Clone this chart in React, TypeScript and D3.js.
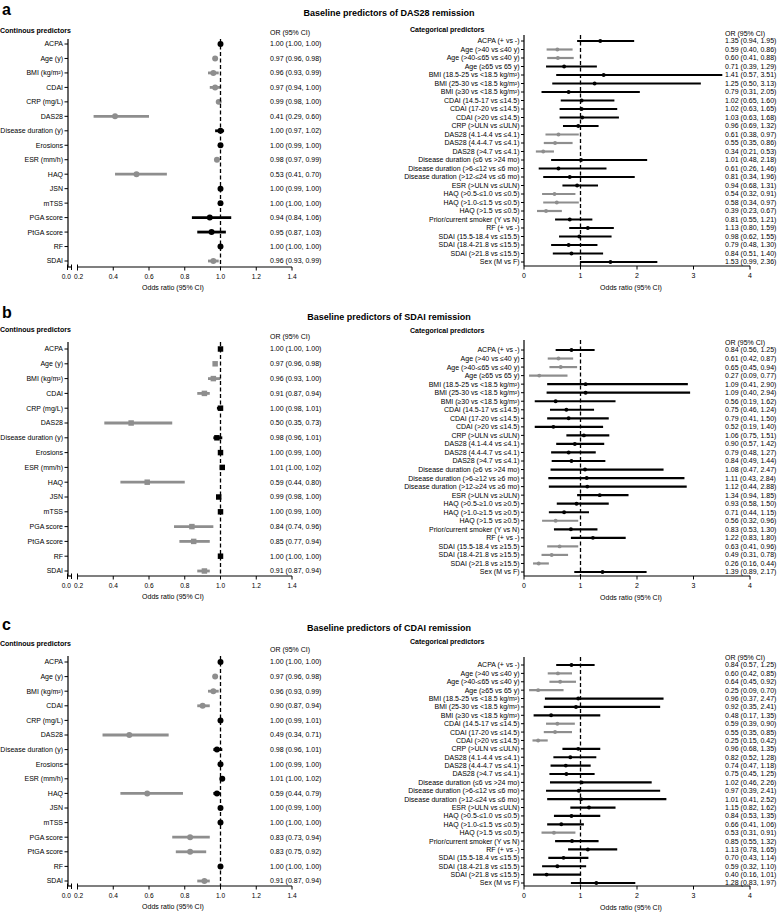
import React from 'react';
import * as d3 from 'd3';

// ---- labels ----
const contLabels = [
  'ACPA', 'Age (y)', 'BMI (kg/m²)', 'CDAI', 'CRP (mg/L)', 'DAS28', 'Disease duration (y)', 'Erosions',
  'ESR (mm/h)', 'HAQ', 'JSN', 'mTSS', 'PGA score', 'PtGA score', 'RF', 'SDAI',
];

const catLabels = [
  'ACPA (+ vs -)', 'Age (>40 vs ≤40 y)', 'Age (>40-≤65 vs ≤40 y)', 'Age (≥65 vs 65 y)',
  'BMI (18.5-25 vs <18.5 kg/m²)', 'BMI (25-30 vs <18.5 kg/m²)', 'BMI (≥30 vs <18.5 kg/m²)',
  'CDAI (14.5-17 vs ≤14.5)', 'CDAI (17-20 vs ≤14.5)', 'CDAI (>20 vs ≤14.5)', 'CRP (>ULN vs ≤ULN)',
  'DAS28 (4.1-4.4 vs ≤4.1)', 'DAS28 (4.4-4.7 vs ≤4.1)', 'DAS28 (>4.7 vs ≤4.1)',
  'Disease duration (≤6 vs >24 mo)', 'Disease duration (>6-≤12 vs ≤6 mo)', 'Disease duration (>12-≤24 vs ≤6 mo)',
  'ESR (>ULN vs ≤ULN)', 'HAQ (>0.5-≤1.0 vs ≤0.5)', 'HAQ (>1.0-≤1.5 vs ≤0.5)', 'HAQ (>1.5 vs ≤0.5)',
  'Prior/current smoker (Y vs N)', 'RF (+ vs -)', 'SDAI (15.5-18.4 vs ≤15.5)', 'SDAI (18.4-21.8 vs ≤15.5)',
  'SDAI (>21.8 vs ≤15.5)', 'Sex (M vs F)',
];

// the SDAI panel prints some of the comparisons with ≥
const catLabelsSdai = [
  'ACPA (+ vs -)', 'Age (>40 vs ≤40 y)', 'Age (>40-≤65 vs ≤40 y)', 'Age (≥65 vs 65 y)',
  'BMI (18.5-25 vs <18.5 kg/m²)', 'BMI (25-30 vs <18.5 kg/m²)', 'BMI (≥30 vs <18.5 kg/m²)',
  'CDAI (14.5-17 vs ≤14.5)', 'CDAI (17-20 vs ≤14.5)', 'CDAI (>20 vs ≤14.5)', 'CRP (>ULN vs ≤ULN)',
  'DAS28 (4.1-4.4 vs ≤4.1)', 'DAS28 (4.4-4.7 vs ≤4.1)', 'DAS28 (>4.7 vs ≤4.1)',
  'Disease duration (≥6 vs >24 mo)', 'Disease duration (>6-≥12 vs ≥6 mo)', 'Disease duration (>12-≥24 vs ≥6 mo)',
  'ESR (>ULN vs ≥ULN)', 'HAQ (>0.5-≥1.0 vs ≥0.5)', 'HAQ (>1.0-≥1.5 vs ≥0.5)', 'HAQ (>1.5 vs ≥0.5)',
  'Prior/current smoker (Y vs N)', 'RF (+ vs -)', 'SDAI (15.5-18.4 vs ≥15.5)', 'SDAI (18.4-21.8 vs ≥15.5)',
  'SDAI (>21.8 vs ≥15.5)', 'Sex (M vs F)',
];

const contTicks = [0, 0.2, 0.4, 0.6, 0.8, 1.0, 1.2, 1.4];
const catTicks = [0, 1, 2, 3, 4];

// ---- DAS28 remission ----
const das28ContOr = [1.00, 0.97, 0.96, 0.97, 0.99, 0.41, 1.00, 1.00, 0.98, 0.53, 1.00, 1.00, 0.94, 0.95, 1.00, 0.96];
const das28ContLo = [1.00, 0.96, 0.93, 0.94, 0.98, 0.29, 0.97, 0.99, 0.97, 0.41, 0.99, 1.00, 0.84, 0.87, 1.00, 0.93];
const das28ContHi = [1.00, 0.98, 0.99, 1.00, 1.00, 0.60, 1.02, 1.00, 0.99, 0.70, 1.00, 1.00, 1.06, 1.03, 1.00, 0.99];
const das28ContSig = [0, 1, 1, 1, 1, 1, 0, 0, 1, 1, 0, 0, 0, 0, 0, 1];

const das28CatOr = [1.35, 0.59, 0.60, 0.71, 1.41, 1.25, 0.79, 1.02, 1.02, 1.03, 0.96, 0.61, 0.55, 0.34, 1.01, 0.61, 0.81, 0.94, 0.54, 0.58, 0.39, 0.81, 1.13, 0.98, 0.79, 0.84, 1.53];
const das28CatLo = [0.94, 0.40, 0.41, 0.39, 0.57, 0.50, 0.31, 0.65, 0.63, 0.63, 0.69, 0.38, 0.35, 0.21, 0.48, 0.26, 0.34, 0.68, 0.32, 0.34, 0.23, 0.55, 0.80, 0.62, 0.48, 0.51, 0.99];
const das28CatHi = [1.95, 0.86, 0.88, 1.29, 3.51, 3.13, 2.05, 1.60, 1.65, 1.68, 1.32, 0.97, 0.86, 0.53, 2.18, 1.46, 1.96, 1.31, 0.91, 0.97, 0.67, 1.21, 1.59, 1.55, 1.30, 1.40, 2.36];
const das28CatSig = [0, 1, 1, 0, 0, 0, 0, 0, 0, 0, 0, 1, 1, 1, 0, 0, 0, 0, 1, 1, 1, 0, 0, 0, 0, 0, 0];

// ---- SDAI remission ----
const sdaiContOr = [1.00, 0.97, 0.96, 0.91, 1.00, 0.50, 0.98, 1.00, 1.01, 0.59, 0.99, 1.00, 0.84, 0.85, 1.00, 0.91];
const sdaiContLo = [1.00, 0.96, 0.93, 0.87, 0.98, 0.35, 0.96, 0.99, 1.00, 0.44, 0.98, 0.99, 0.74, 0.77, 1.00, 0.87];
const sdaiContHi = [1.00, 0.98, 1.00, 0.94, 1.01, 0.73, 1.01, 1.00, 1.02, 0.80, 1.00, 1.00, 0.96, 0.94, 1.00, 0.94];
const sdaiContSig = [0, 1, 1, 1, 0, 1, 0, 0, 0, 1, 0, 0, 1, 1, 0, 1];

const sdaiCatOr = [0.84, 0.61, 0.65, 0.27, 1.09, 1.09, 0.56, 0.75, 0.79, 0.52, 1.06, 0.90, 0.79, 0.84, 1.08, 1.11, 1.12, 1.34, 0.93, 0.71, 0.56, 0.83, 1.22, 0.63, 0.49, 0.26, 1.39];
const sdaiCatLo = [0.56, 0.42, 0.45, 0.09, 0.41, 0.40, 0.19, 0.46, 0.41, 0.19, 0.75, 0.57, 0.48, 0.49, 0.47, 0.43, 0.44, 0.94, 0.58, 0.44, 0.32, 0.53, 0.83, 0.41, 0.31, 0.16, 0.89];
const sdaiCatHi = [1.25, 0.87, 0.94, 0.77, 2.90, 2.94, 1.62, 1.24, 1.50, 1.40, 1.51, 1.42, 1.27, 1.44, 2.47, 2.84, 2.88, 1.85, 1.50, 1.15, 0.96, 1.30, 1.80, 0.96, 0.78, 0.44, 2.17];
const sdaiCatSig = [0, 1, 1, 1, 0, 0, 0, 0, 0, 0, 0, 0, 0, 0, 0, 0, 0, 0, 0, 0, 1, 0, 0, 1, 1, 1, 0];

// ---- CDAI remission ----
const cdaiContOr = [1.00, 0.97, 0.96, 0.90, 1.00, 0.49, 0.98, 1.00, 1.01, 0.59, 1.00, 1.00, 0.83, 0.83, 1.00, 0.91];
const cdaiContLo = [1.00, 0.96, 0.93, 0.87, 0.99, 0.34, 0.96, 0.99, 1.00, 0.44, 0.99, 1.00, 0.73, 0.75, 1.00, 0.87];
const cdaiContHi = [1.00, 0.98, 0.99, 0.94, 1.01, 0.71, 1.01, 1.00, 1.02, 0.79, 1.00, 1.00, 0.94, 0.92, 1.00, 0.94];
const cdaiContSig = [0, 1, 1, 1, 0, 1, 0, 0, 0, 1, 0, 0, 1, 1, 0, 1];
// stray black point printed on the HAQ row of the original figure
const cdaiHaqStray = [0.98, 0.96, 1.00];

const cdaiCatOr = [0.84, 0.60, 0.64, 0.25, 0.96, 0.92, 0.48, 0.59, 0.55, 0.25, 0.96, 0.82, 0.74, 0.75, 1.02, 0.97, 1.01, 1.15, 0.84, 0.66, 0.53, 0.85, 1.13, 0.70, 0.59, 0.40, 1.28];
const cdaiCatLo = [0.57, 0.42, 0.45, 0.09, 0.37, 0.35, 0.17, 0.39, 0.35, 0.15, 0.68, 0.52, 0.47, 0.45, 0.46, 0.39, 0.41, 0.82, 0.53, 0.41, 0.31, 0.55, 0.78, 0.43, 0.32, 0.16, 0.83];
const cdaiCatHi = [1.25, 0.85, 0.92, 0.70, 2.47, 2.41, 1.35, 0.90, 0.85, 0.42, 1.35, 1.28, 1.18, 1.25, 2.26, 2.41, 2.52, 1.62, 1.35, 1.06, 0.91, 1.32, 1.65, 1.14, 1.10, 1.01, 1.97];
const cdaiCatSig = [0, 1, 1, 1, 0, 0, 0, 1, 1, 1, 0, 0, 0, 0, 0, 0, 0, 0, 0, 0, 1, 0, 0, 0, 0, 0, 0];

const FONT = '"Liberation Sans", Arial, Helvetica, sans-serif';
const GREY = '#8e8e8e';
const fmt = d3.format('.2f');
const ciText = (o: number, l: number, h: number) => `${fmt(o)} (${fmt(l)}, ${fmt(h)})`;

interface Series { or: number[]; lo: number[]; hi: number[]; sig: number[] }
interface Box { groupY: number; headerY: number; top: number; first: number; last: number; axis: number }

const ContPlot = ({ s, box, square, stray }: { s: Series; box: Box; square?: boolean; stray?: number[] }) => {
  // broken axis: short 0.0 stub, gap, then 0.2 .. 1.4
  const x = d3.scaleLinear().domain([0, 0.025, 0.2, 1.4]).range([67.5, 71.5, 77.5, 292]);
  const y = d3.scalePoint<number>().domain(d3.range(contLabels.length)).range([box.first, box.last]);
  const sym = d3.symbol().type(square ? d3.symbolSquare : d3.symbolCircle).size(square ? 30 : 28)() || '';
  const axX = 68;
  return (
    <g>
      <text x={0} y={box.groupY} fontSize={7} fontWeight="bold">Continous predictors</text>
      <text x={270} y={box.headerY} fontSize={7}>OR (95% CI)</text>
      <line x1={axX} x2={axX} y1={box.top} y2={box.axis} stroke="#000" strokeWidth={1.2} />
      {contLabels.map((lab, i) => (
        <g key={lab}>
          <line x1={axX - 3.5} x2={axX} y1={y(i)} y2={y(i)} stroke="#000" strokeWidth={1} />
          <text x={axX - 5} y={y(i)} dy="0.35em" textAnchor="end" fontSize={7}>{lab}</text>
          <text x={270} y={y(i)} dy="0.35em" fontSize={7}>{ciText(s.or[i], s.lo[i], s.hi[i])}</text>
        </g>
      ))}
      {contLabels.map((lab, i) => {
        const c = s.sig[i] ? GREY : '#000';
        return (
          <g key={'m' + lab}>
            <line x1={x(s.lo[i])} x2={x(s.hi[i])} y1={y(i)} y2={y(i)} stroke={c} strokeWidth={2.8} />
            <path d={sym} transform={`translate(${x(s.or[i])},${y(i)})`} fill={c} />
          </g>
        );
      })}
      {stray && (
        <g>
          <line x1={x(stray[1])} x2={x(stray[2])} y1={y(9)} y2={y(9)} stroke="#000" strokeWidth={2.8} />
          <path d={sym} transform={`translate(${x(stray[0])},${y(9)})`} fill="#000" />
        </g>
      )}
      <line x1={x(1)} x2={x(1)} y1={box.top} y2={box.axis} stroke="#000" strokeWidth={1.3} strokeDasharray="4,2.5" />
      {/* x axis */}
      <path d={`M${x(0)},${box.axis}H${x(0.025)}`} stroke="#000" strokeWidth={1.2} fill="none" />
      <path d={`M${x(0.2)},${box.axis}H${x(1.4)}`} stroke="#000" strokeWidth={1.2} fill="none" />
      {[0, 0.025].map(v => (
        <line key={'b' + v} x1={x(v)} x2={x(v)} y1={box.axis - 2.5} y2={box.axis + 3} stroke="#000" strokeWidth={1} />
      ))}
      {contTicks.map(v => (
        <g key={'t' + v}>
          {v > 0 && <line x1={x(v)} x2={x(v)} y1={v === 0.2 ? box.axis - 2.5 : box.axis} y2={box.axis + 3.5} stroke="#000" strokeWidth={1} />}
          <text x={x(v) + (v === 0 ? -1.2 : v === 0.2 ? 1.2 : 0)} y={box.axis + 11.5} textAnchor="middle" fontSize={6.6}>
            {d3.format('.1f')(v)}
          </text>
        </g>
      ))}
      <text x={173} y={box.axis + 23} textAnchor="middle" fontSize={7}>Odds ratio (95% CI)</text>
    </g>
  );
};

const CatPlot = ({ s, box, labels }: { s: Series; box: Box; labels: string[] }) => {
  const x = d3.scaleLinear().domain([0, 4]).range([524, 750]);
  const y = d3.scalePoint<number>().domain(d3.range(labels.length)).range([box.first, box.last]);
  const sym = d3.symbol().type(d3.symbolCircle).size(12)() || '';
  const axX = x(0);
  return (
    <g>
      <text x={410} y={box.groupY} fontSize={7} fontWeight="bold">Categorical predictors</text>
      <text x={725} y={box.headerY} fontSize={7}>OR (95% CI)</text>
      <line x1={axX} x2={axX} y1={box.top} y2={box.axis} stroke="#000" strokeWidth={1.2} />
      {labels.map((lab, i) => (
        <g key={i}>
          <line x1={axX - 3} x2={axX} y1={y(i)} y2={y(i)} stroke="#000" strokeWidth={1} />
          <text x={axX - 4.5} y={y(i)} dy="0.35em" textAnchor="end" fontSize={7}>{lab}</text>
          <text x={725} y={y(i)} dy="0.35em" fontSize={7}>{ciText(s.or[i], s.lo[i], s.hi[i])}</text>
        </g>
      ))}
      {labels.map((lab, i) => {
        const c = s.sig[i] ? GREY : '#000';
        return (
          <g key={'m' + i}>
            <line x1={x(s.lo[i])} x2={x(s.hi[i])} y1={y(i)} y2={y(i)} stroke={c} strokeWidth={2.2} />
            <path d={sym} transform={`translate(${x(s.or[i])},${y(i)})`} fill={c} />
          </g>
        );
      })}
      <line x1={x(1)} x2={x(1)} y1={box.top} y2={box.axis} stroke="#000" strokeWidth={1.3} strokeDasharray="4,2.5" />
      <line x1={x(0)} x2={x(4)} y1={box.axis} y2={box.axis} stroke="#000" strokeWidth={1.2} />
      {catTicks.map(v => (
        <g key={v}>
          <line x1={x(v)} x2={x(v)} y1={box.axis} y2={box.axis + 3.5} stroke="#000" strokeWidth={1} />
          <text x={x(v)} y={box.axis + 12} textAnchor="middle" fontSize={7}>{v}</text>
        </g>
      ))}
      <text x={631} y={box.axis + 23.5} textAnchor="middle" fontSize={7}>Odds ratio (95% CI)</text>
    </g>
  );
};

const panels = [
  {
    letter: 'a', title: 'Baseline predictors of DAS28 remission', letterY: 15, titleY: 16,
    cont: { or: das28ContOr, lo: das28ContLo, hi: das28ContHi, sig: das28ContSig },
    cat: { or: das28CatOr, lo: das28CatLo, hi: das28CatHi, sig: das28CatSig },
    labels: catLabels, square: false, stray: undefined,
    L: { groupY: 32.5, headerY: 35, top: 39, first: 44, last: 261, axis: 267 },
    R: { groupY: 31.5, headerY: 36, top: 35, first: 41, last: 262, axis: 266 },
  },
  {
    letter: 'b', title: 'Baseline predictors of SDAI remission', letterY: 318, titleY: 320,
    cont: { or: sdaiContOr, lo: sdaiContLo, hi: sdaiContHi, sig: sdaiContSig },
    cat: { or: sdaiCatOr, lo: sdaiCatLo, hi: sdaiCatHi, sig: sdaiCatSig },
    labels: catLabelsSdai, square: true, stray: undefined,
    L: { groupY: 331.5, headerY: 338.5, top: 342, first: 349, last: 571, axis: 576 },
    R: { groupY: 333, headerY: 345, top: 340, first: 350, last: 572, axis: 576 },
  },
  {
    letter: 'c', title: 'Baseline predictors of CDAI remission', letterY: 630, titleY: 631,
    cont: { or: cdaiContOr, lo: cdaiContLo, hi: cdaiContHi, sig: cdaiContSig },
    cat: { or: cdaiCatOr, lo: cdaiCatLo, hi: cdaiCatHi, sig: cdaiCatSig },
    labels: catLabels, square: false, stray: cdaiHaqStray,
    L: { groupY: 645.5, headerY: 651.5, top: 656, first: 662, last: 881, axis: 886 },
    R: { groupY: 644, headerY: 660, top: 657, first: 665, last: 883, axis: 886 },
  },
];

const App = () => (
  <svg width={778} height={915} style={{ position: 'absolute', left: 0, top: 0, background: '#fff' }}
    fontFamily={FONT} fill="#000">
    {panels.map(p => (
      <g key={p.letter}>
        <text x={2} y={p.letterY} fontSize={16} fontWeight="bold">{p.letter}</text>
        <text x={389} y={p.titleY} fontSize={9} fontWeight="bold" textAnchor="middle">{p.title}</text>
        <ContPlot s={p.cont} box={p.L} square={p.square} stray={p.stray} />
        <CatPlot s={p.cat} box={p.R} labels={p.labels} />
      </g>
    ))}
  </svg>
);

export default App;
